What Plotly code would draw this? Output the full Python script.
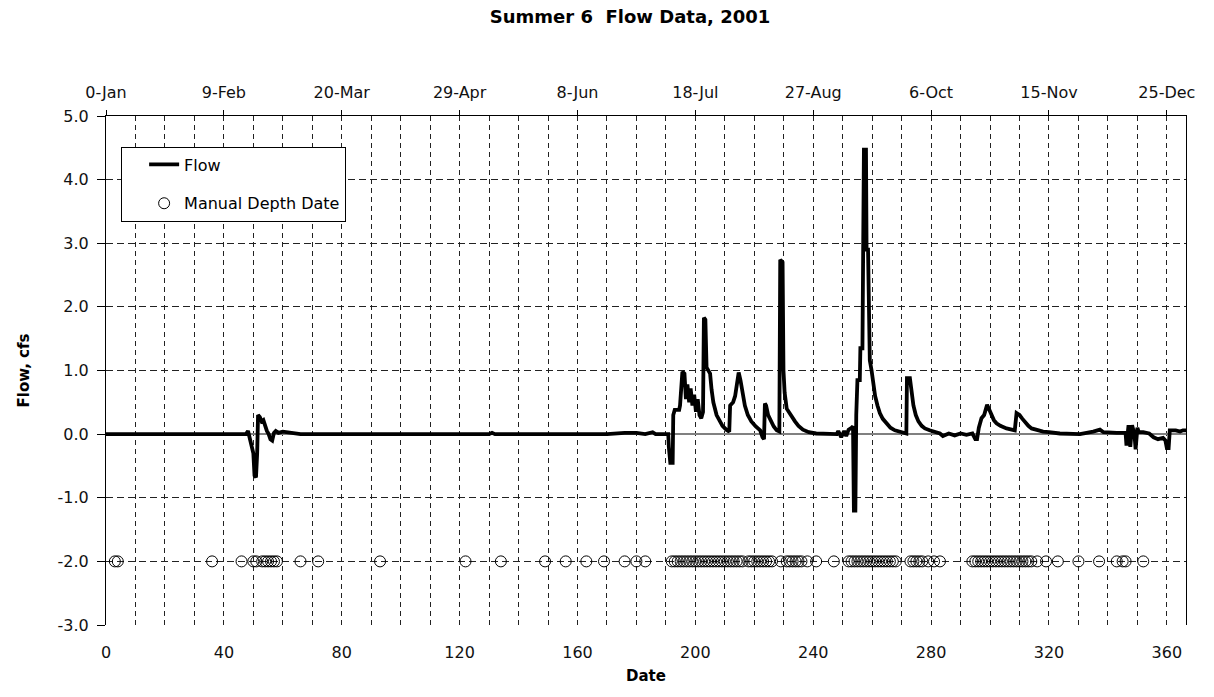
import plotly.graph_objects as go

# ---------------- data ----------------
flow_day = [0, 47.5, 48.2, 48.8, 49.5, 50.0, 50.4, 50.9, 51.3, 51.6, 52.2, 52.8, 53.4, 54.0, 54.6,
            55.2, 55.8, 56.4, 57.0, 57.6, 58.5, 60.0, 62.0, 64.0, 66.0, 130.0, 131.0, 132.0,
            170.0, 176.0, 180.0, 183.0, 185.5, 186.5, 190.8,
            191.0, 191.5, 192.3, 192.5, 193.0, 194.5, 194.8, 195.6, 196.3, 196.8, 197.3, 197.9,
            198.4, 199.0, 199.6, 200.2, 200.8, 201.4, 202.0, 202.6, 202.9, 203.4, 203.8, 204.4,
            205.0, 205.5, 206.1, 207.2, 208.2, 209.2, 210.5, 211.5, 211.8, 212.8, 213.5, 214.2,
            214.7, 215.3, 216.0, 216.8, 217.8, 219.0, 220.5, 222.0, 222.8, 223.3, 223.6, 224.0,
            224.7, 225.6, 226.6, 227.6, 228.5, 228.8, 229.6, 229.9, 230.3, 231.0, 232.0, 232.8,
            233.8, 235.0, 236.5, 238.5, 241.0, 248.0,
            248.5, 249.5, 250.5, 251.2, 252.0, 253.0, 253.5, 253.8, 254.3, 254.6, 255.0, 255.8,
            256.0, 256.7, 256.9, 257.2, 257.9, 258.1, 258.6, 258.8, 259.2, 259.8, 260.4, 261.0,
            261.8, 262.6, 263.6, 264.9, 266.2, 267.7, 269.5, 271.6, 271.8, 272.8, 273.3, 274.0,
            274.8, 275.7, 276.8, 277.9, 279.5, 281.3, 283.0, 284.0, 286.0, 288.0, 290.0, 292.0,
            294.0, 295.0, 295.6, 296.2, 297.1, 298.0, 299.0, 299.8, 300.5, 301.3, 302.2, 303.5,
            305.6, 307.0, 308.4, 309.0, 310.0, 311.0, 311.8, 313.0, 314.1, 316.0, 318.0, 320.0,
            323.7, 330.5, 333.0, 335.0, 337.3, 338.5, 343.0, 346.0, 346.3, 347.0, 347.6, 348.2,
            349.0, 349.4, 350.0, 350.5, 352.0, 354.0, 355.5, 357.0, 358.7, 359.5, 360.0, 360.6,
            361.0, 363.0, 364.5, 365.5, 366.5]
flow_cfs = [0.0, 0.0, 0.05, -0.05, -0.2, -0.3, -0.65, -0.68, -0.3, 0.3, 0.27, 0.2, 0.22, 0.12, 0.05,
            0.0, -0.08, -0.1, 0.02, 0.05, 0.02, 0.04, 0.03, 0.01, 0.0, 0.0, 0.02, 0.0,
            0.0, 0.02, 0.02, 0.0, 0.03, 0.0, 0.0,
            -0.2, -0.45, -0.45, 0.3, 0.38, 0.38, 0.45, 0.98, 0.95, 0.55, 0.78, 0.5,
            0.72, 0.45, 0.62, 0.35, 0.55, 0.3, 0.25, 0.35, 1.83, 1.8, 1.05, 1.0,
            0.95, 0.7, 0.5, 0.3, 0.2, 0.13, 0.07, 0.04, 0.45, 0.5, 0.6, 0.8,
            0.97, 0.85, 0.62, 0.45, 0.3, 0.2, 0.12, 0.06, -0.05, -0.08, 0.48, 0.45,
            0.3, 0.2, 0.12, 0.06, 0.04, 2.74, 2.7, 1.0, 0.65, 0.4, 0.32, 0.27,
            0.2, 0.13, 0.07, 0.03, 0.01, 0.0,
            0.05, -0.05, 0.05, -0.03, 0.07, 0.1, 0.12, -1.2, -1.2, 0.3, 0.85, 0.85,
            1.35, 1.35, 2.7, 4.47, 4.47, 2.9, 2.9, 1.95, 1.16, 1.0, 0.75, 0.6,
            0.45, 0.33, 0.24, 0.17, 0.1, 0.06, 0.03, 0.01, 0.88, 0.88, 0.7, 0.45,
            0.3, 0.2, 0.13, 0.09, 0.06, 0.04, 0.01, -0.03, 0.01, -0.02, 0.01, -0.01,
            0.01, -0.08, -0.08, 0.1, 0.25, 0.3, 0.46, 0.38, 0.3, 0.22, 0.17, 0.13,
            0.09, 0.07, 0.06, 0.33, 0.3, 0.24, 0.19, 0.13, 0.09, 0.06, 0.04, 0.03,
            0.01, 0.0, 0.02, 0.04, 0.07, 0.03, 0.02, 0.02, -0.18, 0.14, -0.2, 0.14,
            0.0, -0.24, 0.1, 0.03, 0.03, 0.01, -0.05, -0.08, -0.06, -0.1, -0.22, -0.22,
            0.06, 0.06, 0.04, 0.06, 0.06]

manual_depth_days = [3, 4, 36, 46, 50, 51, 53, 54, 55, 56, 57, 58, 66, 72, 93, 122, 134, 149, 156,
                     163, 169, 176, 180, 183, 192, 193, 194, 195, 196, 197, 198, 199, 200, 201,
                     202, 203, 204, 205, 206, 207, 208, 209, 210, 211, 212, 213, 214, 215, 216,
                     218, 219, 220, 221, 222, 223, 224, 225, 226, 229, 231, 232, 233, 234, 235,
                     236, 238, 241, 247, 252, 253, 254, 255, 256, 257, 258, 259, 260, 261, 262,
                     263, 264, 265, 266, 267, 268, 273, 274, 275, 276, 277, 279, 281, 283, 294,
                     295, 296, 297, 298, 299, 300, 301, 302, 303, 304, 305, 306, 307, 308, 309,
                     310, 311, 312, 313, 314, 316, 319, 323, 330, 337, 343, 345, 346, 352]
manual_depth_level = -2.0

bottom_tick_vals = [0, 40, 80, 120, 160, 200, 240, 280, 320, 360]
bottom_tick_text = ["0", "40", "80", "120", "160", "200", "240", "280", "320", "360"]
top_tick_text = ["0-Jan", "9-Feb", "20-Mar", "29-Apr", "8-Jun", "18-Jul", "27-Aug",
                 "6-Oct", "15-Nov", "25-Dec"]
y_tick_vals = [-3, -2, -1, 0, 1, 2, 3, 4, 5]
y_tick_text = ["-3.0", "-2.0", "-1.0", "0.0", "1.0", "2.0", "3.0", "4.0", "5.0"]

# ---------------- figure ----------------
FONT = "DejaVu Sans"
X_RANGE = [0, 366.5]

fig = go.Figure()
fig.add_trace(go.Scatter(
    x=flow_day, y=flow_cfs, mode="lines", name="Flow",
    line=dict(color="black", width=3.8), legendgroup="g1",
))
fig.add_trace(go.Scatter(
    x=manual_depth_days, y=[manual_depth_level] * len(manual_depth_days),
    xaxis="x2", yaxis="y",
    mode="markers", name="Manual Depth Date", legendgroup="g2",
    marker=dict(symbol="circle-open", size=11, color="black", line=dict(width=1, color="black")),
))

fig.update_layout(
    width=1214, height=697,
    margin=dict(l=106, r=28, t=116, b=72, autoexpand=False),
    paper_bgcolor="white", plot_bgcolor="white",
    font=dict(family=FONT, size=16, color="#111"),
    title=dict(text="<b>Summer 6  Flow Data, 2001</b>", x=630 / 1214, xanchor="center",
               y=1 - 17 / 697, yanchor="middle", font=dict(family=FONT, size=18, color="black")),
    showlegend=True,
    legend=dict(x=0.014, y=0.94, xanchor="left", yanchor="top",
                bgcolor="white", bordercolor="black", borderwidth=1,
                font=dict(family=FONT, size=16, color="black"),
                tracegroupgap=15, traceorder="grouped", indentation=22,
                itemwidth=30),
    xaxis=dict(
        range=X_RANGE, tickmode="array", tickvals=bottom_tick_vals, ticktext=bottom_tick_text,
        ticks="", ticklabelstandoff=16, showline=False, zeroline=False, automargin=False,
        showgrid=True, gridcolor="#222", gridwidth=1, griddash="5px,4px",
        minor=dict(tickmode="linear", tick0=0, dtick=10, showgrid=True, gridcolor="#222",
                   gridwidth=1, griddash="5px,4px", ticks=""),
        tickfont=dict(family=FONT, size=16, color="#111"),
        title=dict(text="<b>Date</b>", standoff=9, font=dict(family=FONT, size=15, color="black")),
    ),
    xaxis2=dict(
        range=X_RANGE, overlaying="x", side="top", anchor="y", matches="x",
        tickmode="array", tickvals=bottom_tick_vals, ticktext=top_tick_text,
        ticks="outside", ticklen=5, tickcolor="black", ticklabelstandoff=6,
        showline=True, linecolor="black", linewidth=1, showgrid=False, zeroline=False,
        automargin=False,
        tickfont=dict(family=FONT, size=16, color="#111"),
    ),
    yaxis=dict(
        range=[-3, 5], tickmode="array", tickvals=y_tick_vals, ticktext=y_tick_text,
        ticks="outside", ticklen=8, tickcolor="black", ticklabelstandoff=5,
        showline=True, linecolor="black", linewidth=1, mirror=True, automargin=False,
        showgrid=True, gridcolor="#222", gridwidth=1, griddash="7px,4px",
        zeroline=True, zerolinecolor="#808080", zerolinewidth=1.5,
        tickfont=dict(family=FONT, size=16, color="#111"),
        title=dict(text="<b>Flow, cfs</b>", standoff=24, font=dict(family=FONT, size=15, color="black")),
    ),
)

fig.write_html("out.html", config={"displayModeBar": False},
               post_script="document.body.style.margin='0';")
